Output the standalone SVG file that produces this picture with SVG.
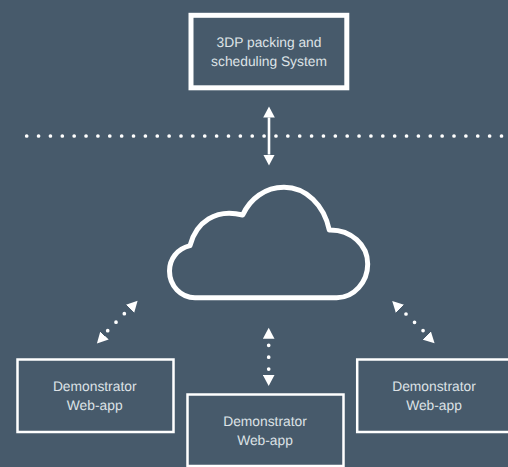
<svg xmlns="http://www.w3.org/2000/svg" width="508" height="467" viewBox="0 0 508 467">
<style>
.box{fill:none;stroke:#fff;stroke-width:2.5}
.main{stroke-width:5}
.lbl{font-family:"Liberation Sans",Arial,sans-serif;font-size:13.8px;fill:#dde2e6;text-anchor:middle;text-rendering:geometricPrecision}
.solid{stroke:#fff;stroke-width:2.6;fill:none;marker-start:url(#head);marker-end:url(#head)}
.dots{stroke:#fff;stroke-width:3.7;stroke-linecap:round;fill:none}
.line{stroke-dasharray:0 11.87}
.short{stroke-dasharray:0 11.9}
.ends{stroke:none;fill:none;marker-start:url(#head);marker-end:url(#head)}
</style>
<defs>
<marker id="head" markerUnits="userSpaceOnUse" markerWidth="12" markerHeight="12" refX="0" refY="6" orient="auto-start-reverse" viewBox="0 0 12 12">
<path d="M0,0.2 L11,6 L0,11.8Z" fill="#fff"/>
</marker>
</defs>
<rect width="508" height="467" fill="#475a6b"/>
<g id="connectors">
<line class="dots line" x1="26.7" y1="136" x2="510" y2="136"/>
<line class="solid" x1="269" y1="117.5" x2="269" y2="154.5"/>
<line class="dots short" x1="268.7" y1="345.3" x2="268.7" y2="370"/>
<line class="ends" x1="268.7" y1="338.7" x2="268.7" y2="375" stroke="#fff"/>
<line class="dots short" x1="107.7" y1="330.7" x2="125" y2="313"/>
<line class="ends" x1="104.5" y1="335.5" x2="130" y2="308.8" stroke="#fff"/>
<line class="dots short" x1="406" y1="314" x2="423.5" y2="331"/>
<line class="ends" x1="400" y1="308.8" x2="426.8" y2="335.5" stroke="#fff"/>
</g>
<g id="cloud">
<path d="M195,297.7 H336.7 C354,297.7 367.7,282 367.7,264 C367.7,245 351,229.5 329.3,230 C324,205 306,187.3 284,187.3 C265,187.3 250,199 242.7,215 C216,208 196,222 190,245.7 C177,249 169.5,259 169.5,271 C169.5,286 181,297.7 195,297.7Z" fill="none" stroke="#fff" stroke-width="5" stroke-linejoin="round"/>
</g>
<g id="node-system">
<rect class="box main" x="191" y="15.3" width="155.8" height="72.5"/>
<text class="lbl" x="269" y="47.3">3DP packing and</text>
<text class="lbl" x="269" y="66">scheduling System</text>
</g>
<g id="node-webapp-left">
<rect class="box" x="17.5" y="359.5" width="156" height="72.5"/>
<text class="lbl" x="94.7" y="391">Demonstrator</text>
<text class="lbl" x="94.7" y="410">Web-app</text>
</g>
<g id="node-webapp-middle">
<rect class="box" x="187.5" y="394.5" width="156" height="71.5"/>
<text class="lbl" x="265" y="426">Demonstrator</text>
<text class="lbl" x="265" y="445">Web-app</text>
</g>
<g id="node-webapp-right">
<rect class="box" x="357.2" y="359.5" width="156" height="72.5"/>
<text class="lbl" x="434" y="391">Demonstrator</text>
<text class="lbl" x="434" y="410">Web-app</text>
</g>
</svg>
